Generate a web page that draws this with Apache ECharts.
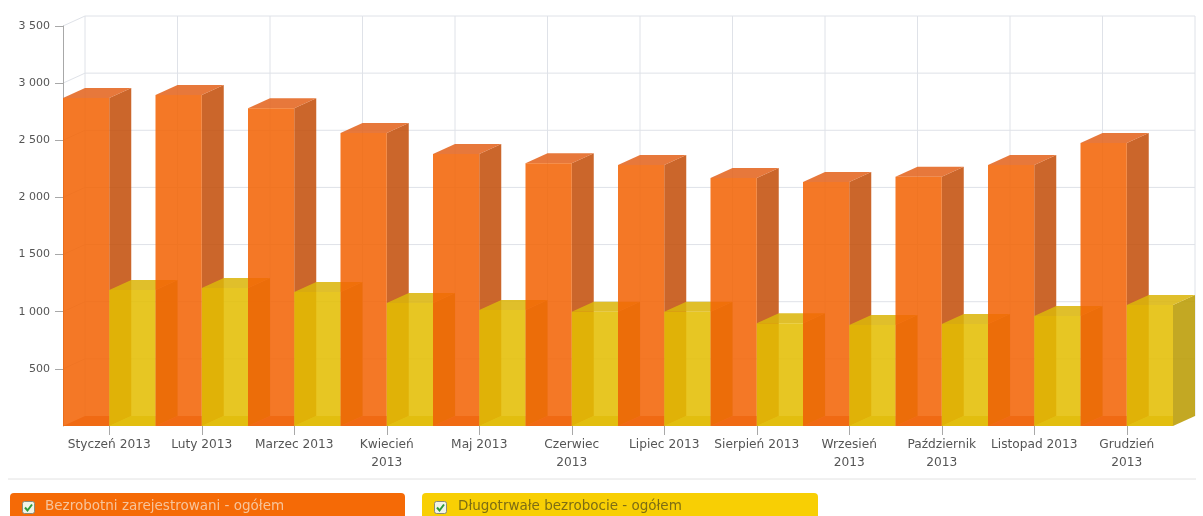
<!DOCTYPE html>
<html><head><meta charset="utf-8">
<style>html,body{margin:0;padding:0;background:#fff}#c{width:1203px;height:516px;filter:blur(0.45px)}</style>
<script src="https://cdn.jsdelivr.net/npm/echarts@6/dist/echarts.min.js"></script>
</head><body><div id="c"></div>
<script>
const categories = ['Styczeń 2013','Luty 2013','Marzec 2013','Kwiecień\n2013','Maj 2013','Czerwiec\n2013','Lipiec 2013','Sierpień 2013','Wrzesień\n2013','Październik\n2013','Listopad 2013','Grudzień\n2013'];
const registered = [2870,2896,2780,2564,2380,2300,2284,2170,2135,2180,2284,2476];
const longTerm = [1190,1207,1172,1076,1015,1000,1000,900,884,892,962,1059];
const yTicks = [500,1000,1500,2000,2500,3000,3500];
const seriesNames = ['Bezrobotni zarejestrowani - ogółem','Długotrwałe bezrobocie - ogółem'];

const DX = 22, DY = -10, ALPHA = 0.87;
const FONT = '"DejaVu Sans", Verdana, sans-serif';
const palette = [
  {front:'#f26406', side:'#c34f0c', top:'#e4641e'},
  {front:'#e4be02', side:'#ba9b02', top:'#dbb50c'}
];
const GRID = '#dfe2e8';

function face(pts, fill, z2, alpha){
  return {type:'polygon', z2, shape:{points:pts}, style:{fill, opacity:alpha===undefined?ALPHA:alpha}, silent:true};
}
function barRenderer(seriesIdx){
  return function(params, api){
    const i = api.value(0), v = api.value(1);
    const c = api.coord([i, v]), b = api.coord([i, 0]);
    const band = api.size([1,0])[0];
    const x0 = seriesIdx === 0 ? c[0]-band/2 : c[0];
    const x1 = x0 + band/2;
    const y = c[1], yb = b[1];
    const p = palette[seriesIdx];
    const z = i*2 + seriesIdx;
    return {type:'group', children:[
      face([[x0,yb],[x1,yb],[x1,yb+DY],[x0+DX,yb+DY]], p.side, z*10, 0.6),
      face([[x1,y],[x1+DX,y+DY],[x1+DX,yb+DY],[x1,yb]], p.side, z*10+2),
      face([[x0,y],[x1,y],[x1+DX,y+DY],[x0+DX,y+DY]], p.top, z*10+3),
      face([[x0,y],[x1,y],[x1,yb],[x0,yb]], p.front, z*10+4)
    ]};
  };
}
function wallH(params, api){
  const v = api.value(0);
  const a = api.coord([0, v]), band = api.size([1,0])[0];
  const x0 = a[0]-band/2, x1 = x0 + band*categories.length;
  return {type:'polyline', silent:true, shape:{points:[[x0,a[1]],[x0+DX,a[1]+DY],[x1+DX,a[1]+DY]]}, style:{stroke:GRID, lineWidth:1, fill:null}};
}
function wallV(params, api){
  const i = api.value(0);
  const a = api.coord([i, 0]), t = api.coord([i, yTicks[yTicks.length-1]]), band = api.size([1,0])[0];
  const x = a[0]-band/2+DX;
  return {type:'line', silent:true, shape:{x1:x,y1:a[1]+DY,x2:x,y2:t[1]+DY}, style:{stroke:GRID, lineWidth:1}};
}
function legendItem(x, w, fill, tx, label, color){
  return [
    {type:'rect', silent:true, shape:{x, y:493, width:w, height:30, r:4}, style:{fill}},
    {type:'rect', silent:true, shape:{x:x+12.5, y:501.5, width:12, height:12, r:2}, style:{fill:'#f0f4e8', stroke:'#8a8a7a', lineWidth:1}},
    {type:'polyline', silent:true, shape:{points:[[x+15,507.5],[x+17.5,510.5],[x+22,504.5]]}, style:{stroke:'#2f9a3c', lineWidth:2, fill:null}},
    {type:'text', silent:true, style:{x:tx, y:499, text:label, fill:color, font:'13.5px '+FONT}}
  ];
}
const chart = echarts.init(document.getElementById('c'), null, {renderer:'canvas'});
chart.setOption({
  animation:false,
  backgroundColor:'#fff',
  grid:{left:63, right:30, top:26, bottom:90, containLabel:false},
  xAxis:{type:'category', data:categories, boundaryGap:true,
    axisLine:{show:false},
    axisTick:{show:true, alignWithLabel:true, length:9, lineStyle:{color:'#a8a8a8'}},
    axisLabel:{interval:0, color:'#555', fontFamily:FONT, fontSize:12.2, lineHeight:18, margin:10},
    splitLine:{show:false}, z:1},
  yAxis:{type:'value', min:0, max:3500, interval:500,
    axisLine:{show:true, lineStyle:{color:'#a8a8a8'}},
    axisTick:{show:true, length:8, lineStyle:{color:'#a8a8a8'}, customValues:yTicks},
    axisLabel:{color:'#555', fontFamily:FONT, fontSize:11, margin:13, customValues:yTicks,
      formatter:v=>String(v).replace(/\B(?=(\d{3})+$)/g,' ')},
    splitLine:{show:false}},
  series:[
    {type:'custom', name:'wallH', coordinateSystem:'cartesian2d', renderItem:wallH, silent:true, z:0, clip:false, encode:{x:1,y:0}, data:yTicks.map(v=>[v,0])},
    {type:'custom', name:'wallV', coordinateSystem:'cartesian2d', renderItem:wallV, silent:true, z:0, clip:false, encode:{x:0,y:1}, data:categories.map((c,i)=>[i,0]).concat([[categories.length,0]])},
    {type:'custom', name:seriesNames[0], coordinateSystem:'cartesian2d', renderItem:barRenderer(0), z:2, clip:false, encode:{x:0,y:1}, data:registered.map((v,i)=>[i,v])},
    {type:'custom', name:seriesNames[1], coordinateSystem:'cartesian2d', renderItem:barRenderer(1), z:2, clip:false, encode:{x:0,y:1}, data:longTerm.map((v,i)=>[i,v])}
  ],
  graphic:[
    {type:'line', silent:true, shape:{x1:8,y1:479,x2:1196,y2:479}, style:{stroke:'#e2e2e2', lineWidth:1}},
    ...legendItem(10,395,'#f56a06',45,seriesNames[0],'#f7c49a'),
    ...legendItem(422,396,'#f8cf04',458,seriesNames[1],'#7d6d14')
  ]
});
</script></body></html>
